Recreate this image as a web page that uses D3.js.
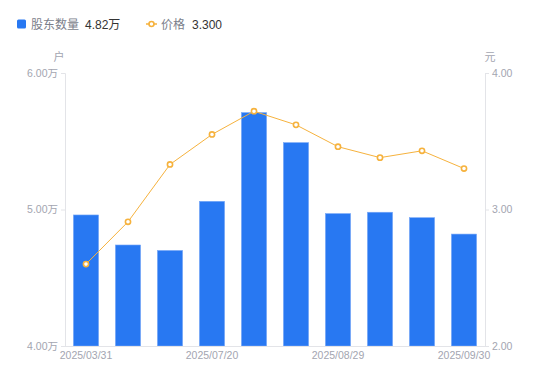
<!DOCTYPE html>
<html><head><meta charset="utf-8">
<script src="https://cdn.jsdelivr.net/npm/d3@7/dist/d3.min.js"></script>
<style>
body{margin:0;background:#fff;}
svg{display:block;font-family:"Liberation Sans",Arial,"Noto Sans CJK SC",sans-serif;}
</style></head>
<body><svg id="c" width="550" height="381"></svg>
<script>
const categories = ["2025/03/31","2025/06/10","2025/06/30","2025/07/20","2025/07/31","2025/08/10","2025/08/29","2025/09/10","2025/09/19","2025/09/30"];
const holders = [4.96, 4.74, 4.70, 5.06, 5.71, 5.49, 4.97, 4.98, 4.94, 4.82];
const prices = [2.60, 2.91, 3.33, 3.55, 3.72, 3.62, 3.46, 3.38, 3.43, 3.30];
const leftTicks = [4, 5, 6];
const rightTicks = [2, 3, 4];
const shownLabels = ["2025/03/31","2025/07/20","2025/08/29","2025/09/30"];

const FONT = "'Liberation Sans',Arial,'Noto Sans CJK SC',sans-serif";
const svg = d3.select("#c");
const m = {l:65, r:485, t:73, b:346};
const x = d3.scaleBand().domain(categories).range([m.l, m.r]).paddingInner(0.4).paddingOuter(0.2);
const yL = d3.scaleLinear().domain([4, 6]).range([m.b, m.t]);
const yR = d3.scaleLinear().domain([2, 4]).range([m.b, m.t]);
const axisColor = "#e3e4e8", textColor = "#a3a5b0";

// bars
svg.append("g").selectAll("rect").data(holders).join("rect")
  .attr("x", (d,i)=>x(categories[i]))
  .attr("y", d=>yL(d))
  .attr("width", x.bandwidth())
  .attr("height", d=>m.b - yL(d))
  .attr("fill", "#2878f2")
  .attr("stroke", "#7aa9f7").attr("stroke-width", 0.6);

// left axis
const gl = svg.append("g").attr("transform", `translate(${m.l},0)`)
  .call(d3.axisLeft(yL).tickValues(leftTicks).tickSize(4).tickPadding(3).tickFormat(d=>d3.format(".2f")(d)+"万"));
// right axis
const gr = svg.append("g").attr("transform", `translate(${m.r},0)`)
  .call(d3.axisRight(yR).tickValues(rightTicks).tickSize(4).tickPadding(3).tickFormat(d3.format(".2f")));
// bottom axis
const gb = svg.append("g").attr("transform", `translate(0,${m.b})`)
  .call(d3.axisBottom(x).tickValues(shownLabels).tickSize(0).tickPadding(6));
[gl, gr, gb].forEach(g=>{
  g.selectAll("path,line").attr("stroke", axisColor);
  g.selectAll("text").attr("fill", textColor).style("font-size","10.5px").style("font-family",FONT);
});
gb.select(".domain").attr("d", `M${m.l},0.5H${m.r}`);

svg.append("text").attr("x", 59).attr("y", 61).attr("text-anchor","middle").attr("fill",textColor).style("font-size","11px").style("font-family","'Noto Sans CJK SC',sans-serif").text("户");
svg.append("text").attr("x", 490).attr("y", 61).attr("text-anchor","middle").attr("fill",textColor).style("font-size","11px").style("font-family","'Noto Sans CJK SC',sans-serif").text("元");

// price line
const cx = (i)=>x(categories[i]) + x.bandwidth()/2;
const line = d3.line().x((d,i)=>cx(i)).y(d=>yR(d));
svg.append("path").datum(prices).attr("d", line).attr("fill","none").attr("stroke","#f6b23d").attr("stroke-width",1);
svg.append("g").selectAll("circle").data(prices).join("circle")
  .attr("cx",(d,i)=>cx(i)).attr("cy",d=>yR(d)).attr("r",2.6)
  .attr("fill","#fff").attr("stroke","#f6b23d").attr("stroke-width",1.6);

// legend
const lg = svg.append("g").style("font-size","12px").style("font-family",FONT);
lg.append("rect").attr("x",17).attr("y",19.5).attr("width",9).attr("height",9).attr("rx",1.5).attr("fill","#2878f2");
lg.append("text").attr("x",31).attr("y",28.5).attr("fill","#7b7e8a").text("股东数量");
lg.append("text").attr("x",85).attr("y",28.5).attr("fill","#333").text(d3.format(".2f")(holders[holders.length-1])+"万");
lg.append("line").attr("x1",146).attr("x2",157).attr("y1",24).attr("y2",24).attr("stroke","#f6b23d").attr("stroke-width",1.5);
lg.append("circle").attr("cx",151.5).attr("cy",24).attr("r",2.5).attr("fill","#fff").attr("stroke","#f6b23d").attr("stroke-width",1.6);
lg.append("text").attr("x",161).attr("y",28.5).attr("fill","#7b7e8a").text("价格");
lg.append("text").attr("x",192).attr("y",28.5).attr("fill","#333").text(d3.format(".3f")(prices[prices.length-1]));
</script></body></html>
